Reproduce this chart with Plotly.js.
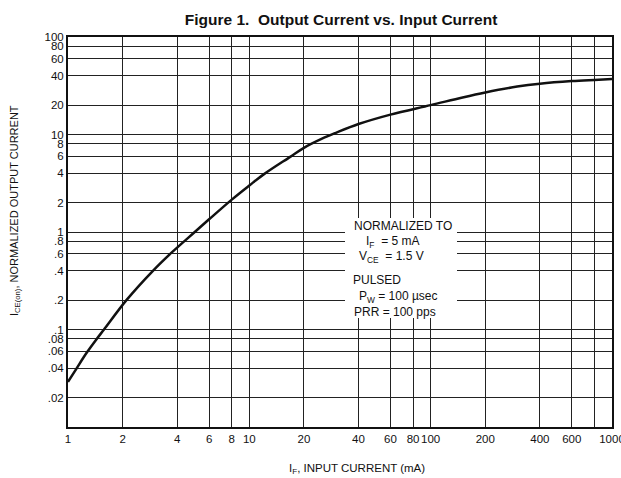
<!DOCTYPE html>
<html>
<head>
<meta charset="utf-8">
<script src="https://cdn.plot.ly/plotly-3.0.1.min.js"></script>
<style>
  html, body { margin: 0; padding: 0; background: #fff; }
  #chart { width: 621px; height: 478px; }
</style>
</head>
<body>
<div id="chart"></div>
<script>
// Data
const inputCurrent = [1, 1.116, 1.27, 1.44, 1.58, 2.1, 2.94, 3.71, 5, 6, 8, 10, 12, 16.8, 20, 25, 30, 40, 60, 100, 150, 200, 300, 400, 600, 800, 1000];
const outputCurrent = [0.029, 0.04, 0.058, 0.08, 0.1, 0.2, 0.4, 0.61, 1.0, 1.35, 2.15, 3.0, 3.9, 5.9, 7.3, 9.0, 10.4, 12.8, 16, 20, 24, 27, 31, 33.2, 35.3, 36.3, 37];

const xTickVals = [1, 2, 4, 6, 8, 10, 20, 40, 60, 80, 100, 200, 400, 600, 800, 1000];
const xTickText = ["1", "2", "4", "6", "8", "10", "20", "40", "60", "80", "100", "200", "400", "600", "", "1000"];
const yTickVals = [0.02, 0.04, 0.06, 0.08, 0.1, 0.2, 0.4, 0.6, 0.8, 1, 2, 4, 6, 8, 10, 20, 40, 60, 80, 100];
const yTickText = [".02", ".04", ".06", ".08", ".1", ".2", ".4", ".6", ".8", "1", "2", "4", "6", "8", "10", "20", "40", "60", "80", "100"];

const noteLines = [
  "NORMALIZED TO",
  "I<sub>F</sub>  = 5 mA",
  "V<sub>CE</sub>  = 1.5 V",
  "PULSED",
  "P<sub>W</sub> = 100 \u00B5sec",
  "PRR = 100 pps"
];

const FONT = '"Liberation Sans Narrow", "Liberation Sans", Arial, sans-serif';
const INK = '#111';

const trace = {
  x: inputCurrent,
  y: outputCurrent,
  type: 'scatter',
  mode: 'lines',
  line: { color: INK, width: 2.5, shape: 'spline', smoothing: 1 },
  hoverinfo: 'skip'
};

const L = 68, R = 612, T = 37, B = 427;
function px(x) { return (x - L) / (R - L); }
function py(y) { return (B - y) / (B - T); }

const notePos = [
  [352, 226], [364, 242], [357, 257], [351, 280], [357, 297], [352, 312]
];

const annotations = noteLines.map((t, i) => ({
  text: t,
  xref: 'paper', yref: 'paper',
  x: px(notePos[i][0]), y: py(notePos[i][1]),
  xanchor: 'left', yanchor: 'middle',
  showarrow: false,
  font: { family: FONT, size: 12, color: INK }
}));

annotations.push({
  text: 'I<sub>CE(on)</sub>, NORMALIZED OUTPUT CURRENT',
  xref: 'paper', yref: 'paper',
  x: px(15), y: py(211),
  xanchor: 'center', yanchor: 'middle',
  textangle: -90,
  showarrow: false,
  font: { family: FONT, size: 11, color: INK }
});
annotations.push({
  text: 'I<sub>F</sub>, INPUT CURRENT (mA)',
  xref: 'paper', yref: 'paper',
  x: px(357), y: py(469),
  xanchor: 'center', yanchor: 'middle',
  showarrow: false,
  font: { family: FONT, size: 11.5, color: INK }
});

const layout = {
  width: 621, height: 478,
  margin: { l: L, r: 621 - R, t: T, b: 478 - B, pad: 0 },
  paper_bgcolor: '#fff', plot_bgcolor: '#fff',
  showlegend: false,
  title: {
    text: '<b>Figure 1.  Output Current vs. Input Current</b>',
    xref: 'paper', x: 0.502, xanchor: 'center',
    y: 1 - 20 / 478, yanchor: 'middle',
    font: { family: '"Liberation Sans", Arial, sans-serif', size: 15.5, color: INK }
  },
  xaxis: {
    type: 'log', range: [0, 3],
    tickmode: 'array', tickvals: xTickVals, ticktext: xTickText,
    tickangle: 0, ticklabeloverflow: 'allow',
    showgrid: true, gridcolor: '#222', gridwidth: 1,
    showline: true, linecolor: INK, linewidth: 2, mirror: true,
    ticks: '', zeroline: false,
    tickfont: { family: FONT, size: 11.5, color: INK }
  },
  yaxis: {
    type: 'log', range: [-2, 2],
    tickmode: 'array', tickvals: yTickVals, ticktext: yTickText,
    showgrid: true, gridcolor: '#222', gridwidth: 1,
    showline: true, linecolor: INK, linewidth: 2, mirror: true,
    ticks: '', zeroline: false,
    tickfont: { family: FONT, size: 11.5, color: INK }
  },
  shapes: [{
    type: 'rect', xref: 'paper', yref: 'paper',
    x0: px(345), x1: px(457), y0: py(318), y1: py(218),
    fillcolor: '#fff', line: { width: 0 }, layer: 'above'
  }],
  annotations: annotations
};

Plotly.newPlot('chart', [trace], layout, { displayModeBar: false, staticPlot: true });
</script>
</body>
</html>
